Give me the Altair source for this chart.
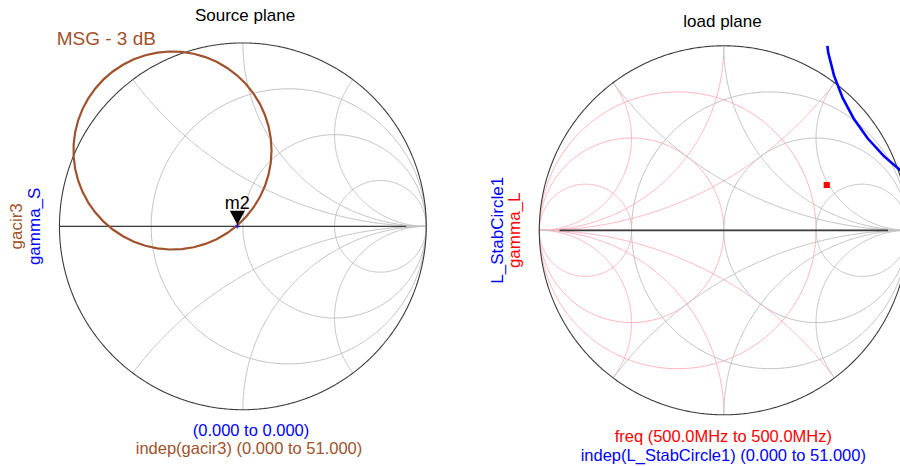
import numpy as np
import pandas as pd
import altair as alt

FONT = "Liberation Sans"

# Centre and radius (px) of each Smith chart on the page
SOURCE_CX, SOURCE_CY, SOURCE_R = 242.85, 226.35, 183.4
LOAD_CX, LOAD_CY, LOAD_R = 723.8, 230.3, 184.5

# Smith chart grid values (normalised resistance / reactance)
R_VALUES = [1 / 3, 1.0, 3.0]
X_VALUES = [0.5, 1.0, 2.0]
AXIS_DARK_END = 0.89

# Source plane traces
GACIR_CENTER = (-0.3836, 0.4136)
GACIR_RADIUS = 0.540
GACIR_POINTS = 52          # indep 0 .. 51
GAMMA_S = (-0.03, 0.0)

# Load plane traces
STAB_CENTER = (1.600, 1.157)
STAB_RADIUS = 1.052
STAB_POINTS = 52           # indep 0 .. 51
GAMMA_L = (0.558, 0.2455)

# Text
SOURCE_TITLE = "Source plane"
LOAD_TITLE = "load plane"
MSG_LABEL = "MSG - 3 dB"
MARKER_LABEL = "m2"
SOURCE_Y_LABELS = ["gacir3", "gamma_S"]
SOURCE_X_LABELS = ["(0.000 to 0.000)", "indep(gacir3) (0.000 to 51.000)"]
LOAD_Y_LABELS = ["L_StabCircle1", "gamma_L"]
LOAD_X_LABELS = ["freq (500.0MHz to 500.0MHz)", "indep(L_StabCircle1) (0.000 to 51.000)"]

BROWN = "#a0522d"
BLUE = "#0000ff"
RED = "#ff0000"
GRID_GRAY = "#c2c2c2"
GRID_PINK = "#ffb4c3"
FRAME = "#3c3c3c"


def to_frame(curves):
    rows = []
    for cid, (xs, ys) in enumerate(curves):
        for k, (a, b) in enumerate(zip(xs, ys)):
            rows.append({"gx": float(a), "gy": float(b), "curve": cid, "i": k})
    return pd.DataFrame(rows)


def smith_grid(mirror=False):
    """Constant-r circles and constant-x arcs; mirrored gives the admittance grid."""
    curves = [([-1.0, 1.0], [0.0, 0.0])]
    t = np.linspace(0, 2 * np.pi, 361)
    for r in R_VALUES:
        c, rad = r / (1 + r), 1 / (1 + r)
        curves.append((c + rad * np.cos(t), rad * np.sin(t)))
    for x in X_VALUES:
        px, py = (x * x - 1) / (x * x + 1), 2 * x / (x * x + 1)
        a0 = np.arctan2(py - 1 / x, px - 1)
        if a0 < 0:
            a0 += 2 * np.pi
        a = np.linspace(a0, 1.5 * np.pi, 240)
        xs = 1 + np.cos(a) / x
        ys = 1 / x + np.sin(a) / x
        curves.append((xs, ys))
        curves.append((xs, -ys))
    if mirror:
        curves = [(-np.asarray(xs), np.asarray(ys)) for xs, ys in curves]
    return to_frame(curves)


def unit_circle():
    t = np.linspace(0, 2 * np.pi, 721)
    return to_frame([(np.cos(t), np.sin(t))])


def trace_circle(center, radius, n):
    t = np.linspace(0, 2 * np.pi, n)
    return center[0] + radius * np.cos(t), center[1] + radius * np.sin(t)


def clip_to_box(xs, ys, lim=1.0):
    """Split a polyline into the pieces that lie inside the plot box."""
    pieces, cur = [], []
    pts = list(zip(xs, ys))

    def inside(p):
        return abs(p[0]) <= lim and abs(p[1]) <= lim

    def cross(p, q):
        best = None
        for dim in (0, 1):
            for edge in (-lim, lim):
                d = q[dim] - p[dim]
                if d == 0:
                    continue
                s = (edge - p[dim]) / d
                if 0 <= s <= 1:
                    o = 1 - dim
                    val = p[o] + s * (q[o] - p[o])
                    if abs(val) <= lim + 1e-9:
                        pt = [0, 0]
                        pt[dim], pt[o] = edge, val
                        if best is None or s < best[0]:
                            best = (s, tuple(pt))
        return best

    for k in range(len(pts)):
        p = pts[k]
        if k > 0:
            q = pts[k - 1]
            if inside(p) != inside(q):
                hit = cross(q, p) if inside(q) else cross(p, q)
                if hit is not None:
                    cur.append(hit[1])
                if inside(q):
                    pieces.append(cur)
                    cur = []
        if inside(p):
            cur.append(p)
    if cur:
        pieces.append(cur)
    return to_frame([([a for a, _ in pc], [b for _, b in pc]) for pc in pieces if len(pc) > 1])


def scales(cx, cy, r):
    xs = alt.Scale(domain=[-1, 1], range=[cx - r, cx + r], nice=False, zero=False)
    ys = alt.Scale(domain=[-1, 1], range=[cy + r, cy - r], nice=False, zero=False)
    return xs, ys


def lines(df, xs, ys, color, width):
    return alt.Chart(df).mark_line(color=color, strokeWidth=width).encode(
        x=alt.X("gx:Q", scale=xs, axis=None),
        y=alt.Y("gy:Q", scale=ys, axis=None),
        detail="curve:N",
        order="i:Q",
    )


def text(x, y, label, xs, ys, color, size=17, angle=0, align="center", dy=0):
    df = pd.DataFrame({"gx": [x], "gy": [y], "label": [label]})
    return alt.Chart(df).mark_text(
        color=color, fontSize=size, font=FONT, angle=angle, align=align,
        baseline="alphabetic", dy=dy,
    ).encode(
        x=alt.X("gx:Q", scale=xs, axis=None),
        y=alt.Y("gy:Q", scale=ys, axis=None),
        text="label:N",
    )


def axis_line(x0, x1):
    return to_frame([([x0, x1], [0.0, 0.0])])


# ---------------- source plane ----------------
sx, sy = scales(SOURCE_CX, SOURCE_CY, SOURCE_R)
gx, gy = trace_circle(GACIR_CENTER, GACIR_RADIUS, GACIR_POINTS)
gacir = to_frame([(gx, gy)])
gamma_s = pd.DataFrame({"gx": [GAMMA_S[0]], "gy": [GAMMA_S[1]]})

marker_shape = "M-1,-1.87L1,-1.87L0,0Z"

source = alt.layer(
    lines(smith_grid(), sx, sy, GRID_GRAY, 1),
    lines(unit_circle(), sx, sy, FRAME, 1.1),
    lines(axis_line(-1.0, AXIS_DARK_END), sx, sy, FRAME, 1.3),
    lines(gacir, sx, sy, BROWN, 2.2),
    alt.Chart(gamma_s).mark_point(shape="cross", filled=True, size=18, color=BLUE).encode(
        x=alt.X("gx:Q", scale=sx, axis=None), y=alt.Y("gy:Q", scale=sy, axis=None)),
    alt.Chart(gamma_s).mark_point(shape=marker_shape, filled=True, size=225,
                                  color="black", opacity=1, yOffset=-1.5).encode(
        x=alt.X("gx:Q", scale=sx, axis=None), y=alt.Y("gy:Q", scale=sy, axis=None)),
    text(GAMMA_S[0], GAMMA_S[1], MARKER_LABEL, sx, sy, "black", size=18, dy=-17),
    text(0.0117, 1.1213, SOURCE_TITLE, sx, sy, "black"),
    text(-1.015, 0.9888, MSG_LABEL, sx, sy, BROWN, size=19, align="left"),
    text(-1.2015, 0.0, SOURCE_Y_LABELS[0], sx, sy, BROWN, angle=270),
    text(-1.106, 0.0, SOURCE_Y_LABELS[1], sx, sy, BLUE, angle=270),
    text(0.0444, -1.145, SOURCE_X_LABELS[0], sx, sy, BLUE, size=16.5),
    text(0.0335, -1.2405, SOURCE_X_LABELS[1], sx, sy, BROWN, size=16.5),
)

# ---------------- load plane ----------------
lx, ly = scales(LOAD_CX, LOAD_CY, LOAD_R)
bx, by = trace_circle(STAB_CENTER, STAB_RADIUS, STAB_POINTS)
stab = clip_to_box(bx, by)
gamma_l = pd.DataFrame({"gx": [GAMMA_L[0]], "gy": [GAMMA_L[1]]})

load = alt.layer(
    lines(smith_grid(mirror=True), lx, ly, GRID_PINK, 1),
    lines(smith_grid(), lx, ly, GRID_GRAY, 1),
    lines(unit_circle(), lx, ly, FRAME, 1.1),
    lines(axis_line(-AXIS_DARK_END, AXIS_DARK_END), lx, ly, FRAME, 1.8),
    lines(stab, lx, ly, BLUE, 2.6),
    alt.Chart(gamma_l).mark_square(size=38, color=RED, opacity=1).encode(
        x=alt.X("gx:Q", scale=lx, axis=None), y=alt.Y("gy:Q", scale=ly, axis=None)),
    text(-0.007, 1.1035, LOAD_TITLE, lx, ly, "black"),
    text(-1.198, 0.0, LOAD_Y_LABELS[0], lx, ly, BLUE, angle=270),
    text(-1.1046, 0.0, LOAD_Y_LABELS[1], lx, ly, RED, angle=270),
    text(-0.0027, -1.149, LOAD_X_LABELS[0], lx, ly, RED, size=16.5),
    text(-0.0027, -1.248, LOAD_X_LABELS[1], lx, ly, BLUE, size=16.5),
)

chart = (
    alt.layer(source, load)
    .resolve_scale(x="independent", y="independent")
    .properties(width=900, height=466, padding=0,
                autosize=alt.AutoSizeParams(type="none"), background="white")
    .configure_view(stroke=None)
)

chart.save("out.html", embed_options={"renderer": "svg", "actions": False})
